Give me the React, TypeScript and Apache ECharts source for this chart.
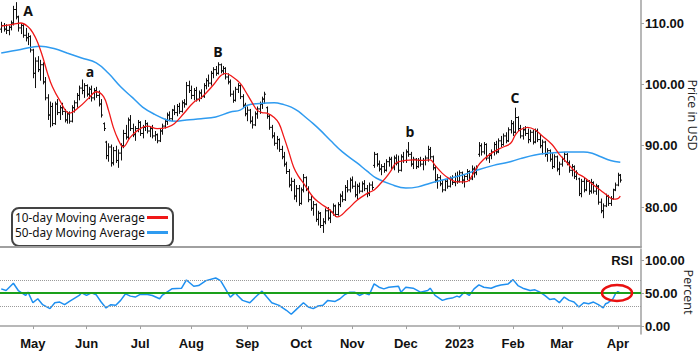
import React, { useEffect, useRef } from "react";
import * as echarts from "echarts";

// [open, high, low, close] per trading day
const priceBars: number[][] = [
  [109.0,110.2,108.4,109.6],[109.6,110.0,108.6,109.0],[109.0,109.8,108.2,108.8],[108.8,109.6,108.0,109.3],[109.3,110.4,108.8,110.0],
  [110.0,112.8,109.6,112.2],[112.2,113.4,110.6,111.0],[111.0,111.2,108.6,109.2],[109.2,110.0,108.2,109.6],[109.6,109.8,107.6,108.0],
  [108.0,109.2,107.0,107.6],[107.6,108.4,106.4,107.8],[107.8,108.0,105.2,105.6],[105.6,105.8,101.0,101.8],[101.8,104.4,99.4,103.8],
  [103.8,104.6,102.0,102.4],[102.4,104.0,100.6,103.2],[103.2,103.6,100.0,100.4],[100.4,101.2,97.4,97.8],[97.8,98.4,94.2,95.0],
  [95.0,97.2,93.0,96.4],[96.4,97.0,93.2,93.6],[93.6,97.2,93.4,96.8],[96.8,97.6,95.0,95.4],[95.4,96.6,94.2,96.2],
  [96.2,97.0,95.0,95.6],[95.6,96.0,93.8,94.2],[94.2,95.6,93.6,95.2],[95.2,95.6,93.6,94.0],[94.0,96.6,93.8,96.2],
  [96.2,97.4,95.4,97.0],[97.0,98.6,96.2,98.2],[98.2,99.8,97.4,99.4],[99.4,100.8,98.4,99.0],[99.0,100.2,97.8,99.8],
  [99.8,100.0,98.0,98.4],[98.4,99.6,97.6,99.2],[99.2,99.8,97.2,97.8],[97.8,99.4,97.4,99.0],[99.0,99.6,97.8,98.2],
  [98.2,99.0,96.4,96.8],[96.8,97.6,94.6,95.0],[93.6,93.8,92.4,92.8],[90.6,90.8,87.8,88.4],[88.4,90.4,87.4,89.8],
  [89.8,90.2,86.6,87.2],[87.2,89.8,86.8,89.2],[89.2,90.0,87.2,87.6],[87.6,89.4,86.4,88.8],[88.8,90.4,87.6,90.0],
  [90.0,92.6,89.6,92.0],[92.0,93.4,91.0,91.4],[91.4,94.6,91.0,94.2],[94.2,95.0,92.4,92.8],[92.8,93.6,91.4,91.8],
  [91.8,93.2,90.8,92.8],[92.8,94.2,92.2,93.8],[93.8,94.0,91.6,92.0],[92.0,93.4,91.2,93.0],[93.0,94.2,92.4,93.6],
  [93.6,93.8,92.0,92.4],[92.4,93.2,91.4,92.8],[92.8,93.4,91.2,91.6],[91.6,92.4,90.8,91.8],[91.8,92.0,90.4,90.8],
  [90.8,92.8,90.6,92.4],[92.4,93.6,91.8,93.2],[93.2,94.4,92.8,94.0],[94.0,95.4,93.4,95.0],[95.0,95.6,94.0,94.4],
  [94.4,96.0,94.0,95.8],[95.8,96.6,95.0,95.4],[95.4,96.8,94.8,96.4],[96.4,97.0,95.2,95.6],[95.6,97.4,95.4,97.0],
  [97.0,97.6,96.2,96.8],[96.8,100.4,96.6,99.8],[99.8,100.6,98.6,99.0],[99.0,99.8,97.6,98.2],[98.2,99.4,97.4,99.0],
  [99.0,99.6,97.2,97.6],[97.6,99.0,97.2,98.6],[98.6,99.2,97.6,98.0],[98.0,100.2,97.8,99.8],[99.8,101.0,99.2,100.6],
  [100.6,101.6,99.6,100.2],[100.2,102.2,99.8,101.8],[101.8,102.8,101.0,102.4],[102.4,103.0,101.4,101.8],[101.8,103.6,101.6,103.2],
  [103.2,103.4,101.8,102.2],[102.2,103.0,101.6,102.6],[102.6,102.8,100.8,101.2],[101.2,101.8,100.0,100.4],[100.4,100.8,98.0,98.4],
  [98.4,99.0,97.0,97.4],[97.4,99.6,97.2,99.2],[99.2,100.2,98.6,99.8],[99.8,100.0,97.6,98.0],[98.0,98.4,96.2,96.6],
  [96.6,97.0,94.8,95.2],[95.2,96.4,94.0,95.8],[95.8,96.0,93.6,94.0],[94.0,94.8,92.8,93.4],[93.4,95.6,93.2,95.2],
  [95.2,96.4,94.4,96.0],[96.0,97.2,95.2,96.8],[96.8,98.0,96.0,97.6],[97.6,98.8,96.8,98.4],[96.2,96.4,94.4,94.8],
  [94.8,95.0,92.6,93.0],[93.0,93.4,91.2,91.6],[91.6,92.2,90.0,90.4],[90.4,91.6,89.4,91.0],[91.0,91.2,89.0,89.4],
  [89.4,90.0,87.8,88.2],[88.2,89.0,86.6,87.0],[87.0,87.4,85.4,85.8],[85.8,86.2,83.2,83.6],[83.6,84.8,82.6,84.2],
  [84.2,84.6,81.2,81.8],[81.8,83.6,80.8,83.0],[83.0,83.6,80.2,80.6],[80.6,83.2,80.4,82.8],[82.8,85.4,82.4,84.8],
  [84.8,85.0,82.6,83.0],[83.0,83.4,80.8,81.2],[81.2,81.8,79.4,79.8],[79.8,81.0,78.6,80.4],[80.4,80.6,77.6,78.0],
  [78.0,79.4,77.0,79.0],[79.0,79.2,76.6,77.0],[77.0,78.2,75.8,77.6],[77.6,79.8,77.2,79.4],[79.4,80.0,77.8,78.2],
  [78.2,79.6,77.4,79.2],[79.2,80.6,78.6,80.2],[80.2,80.4,78.4,78.8],[78.8,80.8,78.6,80.4],[80.4,82.2,80.0,81.8],
  [81.8,82.6,80.8,81.2],[81.2,83.6,81.0,83.2],[83.2,84.4,82.4,82.8],[82.8,84.8,82.4,84.4],[84.4,85.0,83.0,83.4],
  [83.4,84.2,81.6,82.0],[82.0,83.8,81.2,83.4],[83.4,84.0,82.2,82.6],[82.6,84.2,82.4,83.8],[83.8,84.4,82.6,83.0],
  [83.0,83.6,81.6,82.2],[82.2,84.0,81.8,83.6],[83.6,84.2,82.8,83.2],[86.8,89.0,86.4,88.6],[88.6,88.8,86.6,87.0],
  [87.0,87.6,85.8,86.2],[86.2,87.0,85.2,86.6],[86.6,87.2,85.6,86.0],[86.0,87.8,85.8,87.4],[87.4,88.2,86.6,87.8],
  [87.8,88.2,86.0,86.4],[86.4,88.4,86.0,88.0],[88.0,88.6,86.8,87.2],[87.2,88.4,85.6,86.0],[86.0,88.6,85.8,88.2],
  [88.2,89.0,87.2,87.6],[87.6,89.4,87.2,89.0],[89.0,90.6,88.2,88.6],[88.6,89.0,86.6,87.0],[87.0,88.2,86.2,87.8],
  [87.8,88.0,86.2,86.6],[86.6,88.0,86.4,87.6],[87.6,88.2,86.6,87.0],[87.0,88.0,86.0,87.6],[87.6,88.4,86.8,88.0],
  [88.0,90.0,87.4,89.4],[89.4,89.8,87.8,88.2],[88.2,88.4,86.0,86.4],[86.4,86.8,84.0,84.4],[84.4,85.4,83.0,84.8],
  [84.8,85.2,83.4,83.8],[83.8,84.4,82.4,82.8],[82.8,84.6,82.6,84.2],[84.2,84.8,83.0,83.4],[83.4,85.0,83.2,84.6],
  [84.6,85.2,83.6,84.0],[84.0,85.6,83.4,85.0],[85.0,85.8,83.8,84.2],[84.2,86.0,84.0,85.6],[85.6,85.8,83.8,84.4],
  [84.4,85.4,83.2,85.0],[85.0,86.2,84.4,85.8],[85.8,86.0,84.2,84.6],[84.6,86.8,84.4,86.2],[86.2,86.6,84.8,85.6],
  [85.6,86.8,85.2,86.4],[88.6,90.6,88.2,90.0],[90.0,90.4,88.4,89.0],[89.0,90.6,88.6,90.2],[90.2,90.4,87.6,88.0],
  [88.0,88.8,87.2,88.4],[88.4,89.4,87.8,89.0],[89.0,90.6,88.4,90.2],[90.2,90.8,88.6,89.0],[89.0,91.2,88.8,90.8],
  [90.8,91.6,89.8,90.2],[90.2,92.0,90.0,91.6],[91.6,92.2,90.4,90.8],[90.8,93.0,90.6,92.6],[92.6,94.2,92.0,93.6],
  [93.6,94.0,91.6,92.2],[92.2,96.2,92.0,94.6],[94.6,94.8,92.4,92.8],[92.8,93.4,91.2,91.6],[91.6,93.0,91.0,92.6],
  [92.6,93.2,91.6,92.0],[92.0,92.8,90.4,91.0],[91.0,92.6,90.6,92.2],[92.2,92.6,90.2,90.6],[90.6,92.8,90.4,92.4],
  [92.4,92.8,90.6,91.0],[91.0,91.8,89.6,90.0],[90.0,91.0,88.6,90.6],[90.6,90.8,88.2,88.6],[88.6,89.6,87.4,89.2],
  [89.2,89.4,87.4,87.8],[87.8,88.8,86.2,86.6],[86.6,88.6,86.4,88.2],[88.2,88.4,85.8,86.2],[86.2,87.4,85.2,87.0],
  [87.0,88.2,86.6,87.8],[87.8,89.0,87.4,88.6],[88.6,88.8,86.8,87.2],[87.2,87.6,85.6,86.0],[86.0,87.0,85.0,86.6],
  [86.6,86.8,84.6,85.0],[85.0,86.0,84.4,85.6],[84.6,84.8,81.8,82.2],[82.2,84.6,81.6,84.2],[84.2,84.8,82.4,82.8],
  [82.8,84.6,82.6,84.2],[84.2,84.4,82.0,82.6],[82.6,84.6,82.2,84.0],[84.0,84.2,82.2,82.6],[82.6,83.8,82.0,83.4],
  [83.4,83.6,80.4,80.8],[80.8,81.4,79.0,79.4],[79.4,80.6,78.2,80.2],[80.2,82.2,80.0,81.8],[81.8,82.0,80.2,80.6],
  [80.6,81.8,80.2,81.4],[81.4,83.0,81.2,82.8],[82.8,84.0,82.6,83.6],[83.6,85.6,83.4,85.2],[85.2,85.4,84.0,84.4],
];

// [trading-day index, value]
const ma10: number[][] = [
  [0,109.5],[5,109.8],[8,110.0],[11,109.4],[13,108.4],[15,106.8],[17,104.5],[19,101.8],[21,99.6],[24,97.4],[28,95.3],
  [32,96.3],[36,97.8],[39,98.8],[42,98.0],[44,95.8],[46,93.0],[48,91.0],[50,89.8],[53,91.4],[56,92.5],[60,93.2],
  [64,92.8],[68,93.0],[71,93.6],[75,95.3],[79,97.1],[82,97.8],[87,99.9],[90,101.4],[92,101.8],[95,101.2],[98,100.2],
  [100,99.0],[103,97.0],[105,95.8],[107,95.4],[109,95.3],[112,94.6],[114,93.6],[116,91.4],[118,89.0],[120,86.5],
  [122,85.0],[124,83.9],[128,81.6],[131,80.6],[135,79.5],[138,78.4],[142,79.6],[146,81.1],[150,82.2],[153,82.8],
  [156,84.0],[158,84.9],[160,86.0],[162,87.2],[166,87.6],[169,87.7],[173,87.6],[176,87.7],[178,86.8],[181,85.5],
  [184,84.6],[187,84.1],[190,84.1],[192,84.4],[195,86.4],[198,87.8],[202,89.0],[206,89.8],[209,90.4],[211,91.8],
  [213,92.6],[216,93.0],[219,92.6],[222,91.6],[226,90.2],[229,88.6],[232,87.3],[236,85.6],[239,84.9],[243,83.6],
  [246,82.7],[249,81.8],[251,81.3],[253,81.4],[254,81.8],
];

const ma50: number[][] = [
  [0,105.1],[8,105.7],[16,106.2],[22,105.8],[27,105.1],[33,104.3],[39,103.5],[44,101.8],[49,99.6],[54,97.8],
  [58,96.3],[63,95.1],[68,94.2],[72,94.0],[76,94.2],[82,94.4],[88,94.7],[94,95.5],[98,95.8],[101,96.6],[106,96.9],
  [112,97.0],[116,96.7],[119,96.3],[122,95.6],[125,94.6],[128,93.6],[131,92.5],[135,90.9],[140,89.0],[146,87.2],
  [150,85.9],[154,84.7],[160,83.7],[166,83.1],[171,83.3],[176,83.9],[182,84.5],[189,85.2],[195,86.0],[202,86.8],
  [208,87.3],[213,87.9],[219,88.5],[225,88.8],[232,89.0],[239,89.0],[243,88.7],[246,88.2],[250,87.6],[254,87.3],
];

const rsi: number[][] = [
  [0,56.5],[2,54],[5,65],[7,54],[10,46.5],[11,51.5],[13,35.5],[15,41.5],[17,32.5],[20,26.5],[22,35.5],[24,36.5],
  [26,32.5],[28,37.5],[32,46.5],[33,50.5],[35,46.5],[37,50.5],[39,47.5],[41,36.5],[43,27.5],[45,32.5],[47,31.5],
  [49,39],[51,49],[53,45.5],[55,44],[57,48],[60,48],[62,46.5],[65,41.5],[66,46.5],[68,51.5],[70,56.5],[74,57.5],
  [76,70],[79,60.5],[81,61.5],[84,69],[88,73],[90,69],[92,56.5],[94,44],[96,50.5],[97,46.5],[99,39],[102,35.5],
  [105,46.5],[107,53],[109,44],[111,35.5],[114,31.5],[117,24],[119,18],[121,25],[124,35.5],[126,29],[128,26.5],
  [130,30.5],[132,31.5],[134,39],[137,37.5],[139,41.5],[141,48],[143,51.5],[145,51.5],[147,46.5],[149,50],
  [151,47.5],[153,64],[155,59],[157,56.5],[159,59],[163,60.5],[164,51.5],[166,59],[169,57.5],[172,51.5],[175,54],
  [176,57.5],[178,46.5],[181,39],[183,41.5],[185,42.5],[187,45.5],[188,44],[190,51.5],[192,46.5],[194,56.5],
  [196,62.5],[198,59],[201,57.5],[203,60.5],[205,62.5],[208,64],[210,70.5],[212,61.5],[214,57.5],[217,54],[219,55],
  [221,51.5],[223,46.5],[225,40.5],[227,41.5],[229,35.5],[231,44],[233,39],[235,36.5],[237,29],[239,35.5],[241,34],
  [243,36.5],[245,32.5],[247,27.5],[248,34],[249,35.5],[251,41.5],[252,49],[253,52.5],[254,50],
];

const priceTicks = [80, 90, 100, 110];
const rsiTicks = [0, 50, 100];
const monthNames = ["Jan", "Feb", "Mar", "Apr", "May", "Jun", "Jul", "Aug", "Sep", "Oct", "Nov", "Dec"];

// trading-day calendar (weekdays) starting 13 Apr 2022
const dates: string[] = [];
{
  const d = new Date(2022, 3, 13);
  while (dates.length < 263) {
    const wd = d.getDay();
    if (wd !== 0 && wd !== 6) {
      dates.push(`${d.getFullYear()}-${d.getMonth() + 1}-${d.getDate()}`);
    }
    d.setDate(d.getDate() + 1);
  }
}
const monthOf = (s: string) => Number(s.split("-")[1]);
const isMonthStart = (idx: number) => idx > 0 && monthOf(dates[idx]) !== monthOf(dates[idx - 1]);

export default function App() {
  const ref = useRef<HTMLDivElement>(null);
  useEffect(() => {
    if (!ref.current) return;
    const chart = echarts.init(ref.current, undefined, { renderer: "svg" });
    const axisFont = "Liberation Sans";
    const barData = priceBars.map((b, i) => [i, b[0], b[1], b[2], b[3]]);
    chart.setOption({
      animation: false,
      backgroundColor: "#ffffff",
      grid: [
        { left: 0, top: 0, width: 641, height: 247 },
        { left: 0, top: 249, width: 641, height: 85 },
      ],
      xAxis: [
        {
          type: "category", gridIndex: 0, data: dates, boundaryGap: true,
          axisLine: { show: true, lineStyle: { color: "#a0a0a0", width: 2 } },
          axisTick: { show: false }, axisLabel: { show: false }, splitLine: { show: false },
        },
        {
          type: "category", gridIndex: 1, data: dates, boundaryGap: true,
          axisLine: { show: true, lineStyle: { color: "#a0a0a0", width: 1.5 } },
          axisTick: { show: true, alignWithLabel: true, interval: (i: number) => isMonthStart(i), length: 3, lineStyle: { color: "#a0a0a0" } },
          axisLabel: {
            interval: (i: number) => isMonthStart(i),
            formatter: (v: string) => {
              const m = monthOf(v);
              return m === 1 ? v.split("-")[0] : monthNames[m - 1];
            },
            fontFamily: axisFont, fontWeight: "bold", fontSize: 13, color: "#111", margin: 3,
          },
          splitLine: { show: false },
        },
      ],
      yAxis: [
        {
          type: "value", gridIndex: 0, position: "right", min: 73.5, max: 113.75,
          axisLine: { show: true, lineStyle: { color: "#a0a0a0", width: 1.5 } },
          axisTick: { show: true, customValues: priceTicks, length: 3, lineStyle: { color: "#a0a0a0" } },
          axisLabel: {
            customValues: priceTicks, formatter: (v: number) => v.toFixed(2),
            fontFamily: axisFont, fontWeight: "bold", fontSize: 13, color: "#111", margin: 4,
          },
          splitLine: { show: false },
        },
        {
          type: "value", gridIndex: 1, position: "right", min: -12, max: 117,
          axisLine: { show: true, lineStyle: { color: "#a0a0a0", width: 1.5 } },
          axisTick: { show: true, customValues: rsiTicks, length: 3, lineStyle: { color: "#a0a0a0" } },
          axisLabel: {
            customValues: rsiTicks, formatter: (v: number) => v.toFixed(2),
            fontFamily: axisFont, fontWeight: "bold", fontSize: 13, color: "#111", margin: 4,
          },
          splitLine: { show: false },
        },
      ],
      series: [
        {
          type: "custom", xAxisIndex: 0, yAxisIndex: 0, data: barData,
          encode: { x: 0, y: [1, 2, 3, 4] },
          renderItem: (params: any, api: any) => {
            const i = api.value(0);
            const pO = api.coord([i, api.value(1)]);
            const pH = api.coord([i, api.value(2)]);
            const pL = api.coord([i, api.value(3)]);
            const pC = api.coord([i, api.value(4)]);
            const x = Math.round(pH[0]) + 0.5;
            const t = 1.5;
            const st = { stroke: "#111", lineWidth: 1 };
            return {
              type: "group",
              children: [
                { type: "line", shape: { x1: x, y1: pH[1], x2: x, y2: pL[1] }, style: st },
                { type: "line", shape: { x1: x - t, y1: pO[1], x2: x, y2: pO[1] }, style: st },
                { type: "line", shape: { x1: x, y1: pC[1], x2: x + t, y2: pC[1] }, style: st },
              ],
            };
          },
          z: 2,
        },
        {
          type: "line", xAxisIndex: 0, yAxisIndex: 0, data: ma50, showSymbol: false, smooth: 0.4,
          lineStyle: { color: "#2f9bf0", width: 1.5 }, z: 3,
        },
        {
          type: "line", xAxisIndex: 0, yAxisIndex: 0, data: ma10, showSymbol: false, smooth: 0.4,
          lineStyle: { color: "#f01818", width: 1.3 }, z: 4,
        },
        {
          type: "line", xAxisIndex: 1, yAxisIndex: 1, data: rsi, showSymbol: false,
          lineStyle: { color: "#1e8ff0", width: 1.5 }, z: 4,
          markLine: {
            silent: true, symbol: ["none", "none"], label: { show: false }, animation: false,
            data: [
              { yAxis: 70, lineStyle: { color: "#9a9a9a", type: "dotted", width: 1 } },
              { yAxis: 30, lineStyle: { color: "#9a9a9a", type: "dotted", width: 1 } },
              { yAxis: 50, lineStyle: { color: "#1aa01a", type: "solid", width: 2 } },
            ],
          },
        },
      ],
      graphic: [
        { type: "text", x: 28, y: 10, style: { text: "A", font: 'bold 14px "Open Sans"', fill: "#111", textAlign: "center", textVerticalAlign: "middle" } },
        { type: "text", x: 90, y: 71, style: { text: "a", font: 'bold 14px "Open Sans"', fill: "#111", textAlign: "center", textVerticalAlign: "middle" } },
        { type: "text", x: 218, y: 51, style: { text: "B", font: 'bold 14px "Open Sans"', fill: "#111", textAlign: "center", textVerticalAlign: "middle" } },
        { type: "text", x: 410, y: 131, style: { text: "b", font: 'bold 14px "Open Sans"', fill: "#111", textAlign: "center", textVerticalAlign: "middle" } },
        { type: "text", x: 515, y: 97, style: { text: "C", font: 'bold 14px "Open Sans"', fill: "#111", textAlign: "center", textVerticalAlign: "middle" } },
        { type: "text", x: 692, y: 115, rotation: -Math.PI / 2, style: { text: "Price in USD", font: '12.5px "Open Sans"', fill: "#222", textAlign: "center", textVerticalAlign: "middle" } },
        { type: "text", x: 688, y: 292, rotation: -Math.PI / 2, style: { text: "Percent", font: '12.5px "Open Sans"', fill: "#222", textAlign: "center", textVerticalAlign: "middle" } },
        { type: "text", x: 622, y: 260, style: { text: "RSI", font: "bold 13px Liberation Sans", fill: "#111", textAlign: "center", textVerticalAlign: "middle" } },
        { type: "ellipse", shape: { cx: 617, cy: 293, rx: 15, ry: 8 }, style: { fill: "none", stroke: "#e81010", lineWidth: 2.5 }, z: 10 },
        {
          type: "group", z: 10,
          children: [
            { type: "rect", shape: { x: 12, y: 208, width: 161, height: 38, r: 7 }, style: { fill: "#fff", stroke: "#444", lineWidth: 2 } },
            { type: "text", x: 15, y: 217, style: { text: "10-day Moving Average", font: '11.8px "Noto Sans"', lineHeight: 13, fill: "#111", textAlign: "left", textVerticalAlign: "middle" } },
            { type: "text", x: 15, y: 232, style: { text: "50-day Moving Average", font: '11.8px "Noto Sans"', lineHeight: 13, fill: "#111", textAlign: "left", textVerticalAlign: "middle" } },
            { type: "line", shape: { x1: 147, y1: 217.5, x2: 168, y2: 217.5 }, style: { stroke: "#f01818", lineWidth: 3 } },
            { type: "line", shape: { x1: 147, y1: 232.5, x2: 168, y2: 232.5 }, style: { stroke: "#2f9bf0", lineWidth: 3 } },
          ],
        },
      ],
    });
    return () => chart.dispose();
  }, []);
  return <div ref={ref} style={{ position: "fixed", left: 0, top: 0, width: 700, height: 351 }} />;
}
